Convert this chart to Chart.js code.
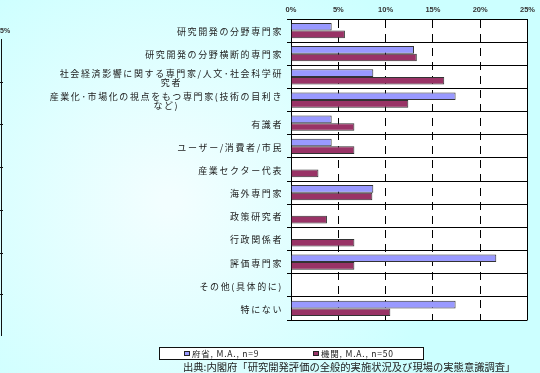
<!DOCTYPE html>
<html>
<head>
<meta charset="utf-8">
<script src="https://cdn.jsdelivr.net/npm/chart.js@4/dist/chart.umd.min.js"></script>
<style>
  html, body { margin: 0; padding: 0; }
  #wrap { width: 540px; height: 373px; position: relative; }
</style>
</head>
<body>
<div id="wrap"><canvas id="evalChart" width="540" height="373"></canvas></div>
<script>
// --- DATA ---
const categories = [
  ["研究開発の分野専門家"],
  ["研究開発の分野横断的専門家"],
  ["社会経済影響に関する専門家/人文･社会科学研", "究者"],
  ["産業化･市場化の視点をもつ専門家(技術の目利き", "など)"],
  ["有識者"],
  ["ユーザー/消費者/市民"],
  ["産業セクター代表"],
  ["海外専門家"],
  ["政策研究者"],
  ["行政関係者"],
  ["評価専門家"],
  ["その他(具体的に)"],
  ["特にない"]
];
const fushoValues = [4.3, 13.0, 8.7, 17.4, 4.3, 4.3, 0, 8.7, 0, 0, 21.7, 0, 17.4];
const kikanValues = [5.7, 13.3, 16.2, 12.4, 6.7, 6.7, 2.9, 8.6, 3.8, 6.7, 6.7, 0, 10.5];
const seriesLabels = ["府省, M.A., n=9", "機関, M.A., n=50"];
const xTicks = [0, 5, 10, 15, 20, 25];
const sourceText = "出典:内閣府「研究開発評価の全般的実施状況及び現場の実態意識調査」";

const JP = '"Noto Sans CJK JP", "DejaVu Sans", sans-serif';

// --- PLUGINS ---
const backdrop = {
  id: "backdrop",
  beforeDraw(chart) {
    const { ctx, chartArea: a, width, height } = chart;
    ctx.save();
    const g = ctx.createRadialGradient(170, 200, 10, 170, 200, 280);
    g.addColorStop(0, "#f2feff");
    g.addColorStop(1, "#ccffff");
    ctx.fillStyle = g;
    ctx.fillRect(0, 0, width, height);
    ctx.fillStyle = "#ffffff";
    ctx.fillRect(a.left, a.top, a.right - a.left, a.bottom - a.top);

    // piece of the neighbouring chart at the left edge
    ctx.strokeStyle = "#111";
    ctx.lineWidth = 1;
    ctx.beginPath();
    ctx.moveTo(1.5, 39);
    ctx.lineTo(1.5, 336);
    [82, 124, 167, 210, 253, 294].forEach((y) => {
      ctx.moveTo(0, y + 0.5);
      ctx.lineTo(3, y + 0.5);
    });
    ctx.stroke();
    ctx.fillStyle = "#333";
    ctx.font = "bold 7px 'Liberation Sans', sans-serif";
    ctx.textBaseline = "middle";
    ctx.textAlign = "left";
    ctx.fillText("5%", 0, 31);
    ctx.restore();
  },
};

const catLabels = {
  id: "catLabels",
  afterDraw(chart) {
    const { ctx, chartArea: a } = chart;
    const yScale = chart.scales.y;
    ctx.save();
    ctx.fillStyle = "#222";
    ctx.font = "9px " + JP;
    ctx.letterSpacing = "1.6px";
    ctx.textBaseline = "middle";
    ctx.textAlign = "center";
    const right = a.left - 8;
    categories.forEach((lines, i) => {
      const yc = yScale.getPixelForValue(i) + 1;
      const w = Math.max(...lines.map((l) => ctx.measureText(l).width));
      const lh = 8.5;
      const y0 = yc - ((lines.length - 1) * lh) / 2;
      lines.forEach((l, k) => {
        ctx.fillText(l, right - w / 2, y0 + k * lh);
      });
    });
    ctx.restore();
  },
};

const boxLegend = {
  id: "boxLegend",
  afterDraw(chart) {
    const { ctx } = chart;
    ctx.save();
    ctx.fillStyle = "#ffffff";
    ctx.fillRect(159.5, 347.5, 264, 12);
    ctx.strokeStyle = "#111";
    ctx.lineWidth = 1;
    ctx.strokeRect(159.5, 347.5, 264, 12);
    const starts = [184, 313];
    chart.data.datasets.forEach((ds, i) => {
      const x = starts[i];
      ctx.fillStyle = ds.backgroundColor;
      ctx.fillRect(x, 351, 6, 5);
      ctx.strokeStyle = "#222";
      ctx.strokeRect(x + 0.5, 351.5, 5, 4);
      ctx.fillStyle = "#222";
      ctx.font = "8.5px " + JP;
      ctx.letterSpacing = "0.8px";
      ctx.textBaseline = "middle";
      ctx.textAlign = "left";
      ctx.fillText(ds.label, x + 8, 354);
    });
    ctx.font = "10.3px " + JP;
    ctx.letterSpacing = "0px";
    ctx.fillStyle = "#222";
    ctx.textAlign = "left";
    ctx.fillText(sourceText, 183, 367);
    ctx.restore();
  },
};

// --- CHART ---
const isEdge = (c) => c.tick && (c.tick.value === xTicks[0] || c.tick.value === xTicks[xTicks.length - 1]);

new Chart(document.getElementById("evalChart"), {
  type: "bar",
  data: {
    labels: categories.map((c) => c.join("")),
    datasets: [
      {
        label: seriesLabels[0],
        data: fushoValues,
        backgroundColor: "#9999ff",
        borderColor: "#333333",
        borderWidth: 1,
      },
      {
        label: seriesLabels[1],
        data: kikanValues,
        backgroundColor: "#993366",
        borderColor: "#333333",
        borderWidth: 1,
      },
    ],
  },
  options: {
    indexAxis: "y",
    responsive: false,
    animation: false,
    categoryPercentage: 0.66,
    barPercentage: 1.0,
    layout: { padding: { left: 0, right: 12, top: 0, bottom: 53 } },
    plugins: { legend: { display: false }, tooltip: { enabled: false } },
    scales: {
      x: {
        position: "top",
        min: 0,
        max: 25,
        afterFit: (s) => { s.height = 19; },
        afterBuildTicks: (s) => { s.ticks = xTicks.map((v) => ({ value: v })); },
        grid: {
          color: "#000",
          lineWidth: 1,
          drawTicks: false,
        },
        border: {
          color: "#000",
          width: 1,
          dash: (c) => (isEdge(c) || !c.tick ? [] : [8, 6]),
        },
        ticks: {
          padding: 5,
          color: "#333",
          font: { family: "'Liberation Sans', sans-serif", size: 7.5, weight: "bold" },
          callback: (v) => v + "%",
        },
      },
      y: {
        afterFit: (s) => { s.width = 291; },
        grid: {
          color: "#000",
          lineWidth: 1,
          tickLength: 4,
          tickColor: "#000",
        },
        border: { color: "#000", width: 1 },
        ticks: { display: false },
      },
    },
  },
  plugins: [backdrop, catLabels, boxLegend],
});
</script>
</body>
</html>
